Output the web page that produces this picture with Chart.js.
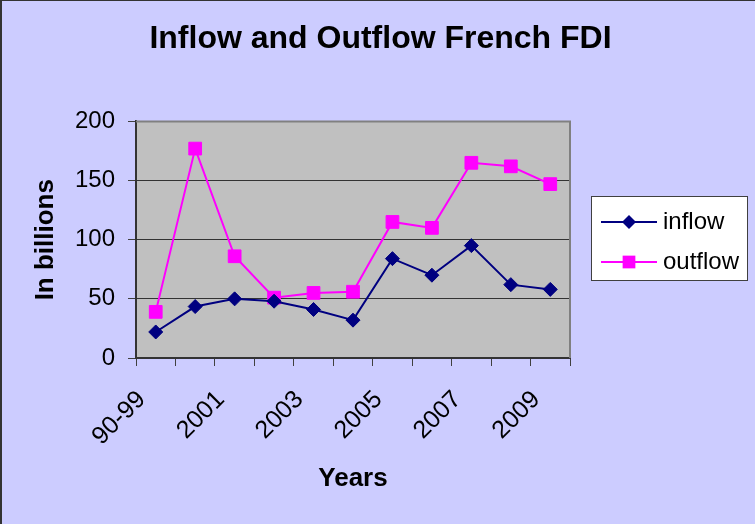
<!DOCTYPE html>
<html>
<head>
<meta charset="utf-8">
<script src="https://cdn.jsdelivr.net/npm/chart.js"></script>
<style>
  body { margin: 0; background: #ccccff; }
  canvas { display: block; }
</style>
</head>
<body>
<canvas id="fdiChart" width="755" height="524"></canvas>
<script>
// DATA
const years = ["90-99", "2000", "2001", "2002", "2003", "2004", "2005", "2006", "2007", "2008", "2009"];
const inflow = [22, 43.5, 50, 48, 41, 32, 84, 70, 95, 62, 58];
const outflow = [39, 177, 86, 51, 55, 56, 115, 110, 165, 162, 147];
const yTicks = [0, 50, 100, 150, 200];

const FONT = "Arial, 'Liberation Sans', sans-serif";

// BACKGROUND + PLOT AREA
const backdrop = {
  id: "backdrop",
  beforeDraw(chart) {
    const { ctx, chartArea: a } = chart;
    ctx.save();
    ctx.fillStyle = "#ccccff";
    ctx.fillRect(0, 0, chart.width, chart.height);
    ctx.fillStyle = "#333333";
    ctx.fillRect(0, 0, chart.width, 1);
    ctx.fillRect(0, 0, 2, chart.height);
    ctx.fillStyle = "#c0c0c0";
    ctx.fillRect(a.left, a.top, a.right - a.left, a.bottom - a.top);
    ctx.restore();
  },
  beforeDatasetsDraw(chart) {
    const { ctx, chartArea: a } = chart;
    ctx.save();
    ctx.strokeStyle = "#808080";
    ctx.lineWidth = 2;
    ctx.beginPath();
    ctx.moveTo(a.left, a.top);
    ctx.lineTo(a.right, a.top);
    ctx.lineTo(a.right, a.bottom);
    ctx.stroke();
    ctx.restore();
  }
};

// LEGEND (excel style, line + marker)
const boxLegend = {
  id: "boxLegend",
  afterDraw(chart) {
    const ctx = chart.ctx;
    const x = 591.5, y = 196.5, w = 156, h = 84;
    ctx.save();
    ctx.fillStyle = "#ffffff";
    ctx.fillRect(x, y, w, h);
    ctx.strokeStyle = "#404040";
    ctx.lineWidth = 1;
    ctx.strokeRect(x, y, w, h);
    chart.data.datasets.forEach((ds, i) => {
      const ly = 222 + i * 40;
      ctx.strokeStyle = ds.borderColor;
      ctx.lineWidth = ds.borderWidth;
      ctx.beginPath();
      ctx.moveTo(601, ly);
      ctx.lineTo(657, ly);
      ctx.stroke();
      ctx.fillStyle = ds.pointBackgroundColor;
      ctx.beginPath();
      if (ds.pointStyle === "rectRot") {
        const r = ds.pointRadius;
        ctx.moveTo(629, ly - r);
        ctx.lineTo(629 + r, ly);
        ctx.lineTo(629, ly + r);
        ctx.lineTo(629 - r, ly);
      } else {
        const s = ds.pointRadius * Math.SQRT1_2;
        ctx.rect(629 - s, ly - s, 2 * s, 2 * s);
      }
      ctx.closePath();
      ctx.fill();
      ctx.fillStyle = "#000000";
      ctx.font = "24px " + FONT;
      ctx.textBaseline = "middle";
      ctx.textAlign = "left";
      ctx.fillText(ds.label, 663, ly);
    });
    ctx.restore();
  }
};

new Chart(document.getElementById("fdiChart"), {
  type: "line",
  data: {
    labels: years,
    datasets: [
      {
        label: "inflow",
        data: inflow,
        borderColor: "#000080",
        backgroundColor: "#000080",
        pointBackgroundColor: "#000080",
        pointBorderColor: "#000080",
        borderWidth: 2,
        pointStyle: "rectRot",
        pointRadius: 7,
        pointBorderWidth: 1,
        tension: 0
      },
      {
        label: "outflow",
        data: outflow,
        borderColor: "#ff00ff",
        backgroundColor: "#ff00ff",
        pointBackgroundColor: "#ff00ff",
        pointBorderColor: "#ff00ff",
        borderWidth: 2,
        pointStyle: "rect",
        pointRadius: 9,
        pointBorderWidth: 1,
        tension: 0
      }
    ]
  },
  options: {
    responsive: false,
    animation: false,
    layout: { padding: { left: 6, right: 0, top: 0, bottom: 0 } },
    plugins: {
      legend: { display: false },
      tooltip: { enabled: false },
      title: {
        display: true,
        text: "Inflow and Outflow French FDI",
        color: "#000000",
        font: { family: FONT, size: 32, weight: "bold" },
        padding: { top: 20, bottom: 63 }
      }
    },
    scales: {
      x: {
        offset: true,
        grid: { drawOnChartArea: false, offset: true, tickLength: 8, color: "#404040", tickColor: "#404040" },
        border: { color: "#333333", width: 2 },
        ticks: {
          autoSkip: false,
          maxRotation: 45,
          minRotation: 45,
          padding: 19,
          labelOffset: -14,
          color: "#000000",
          font: { family: FONT, size: 25 },
          callback: (v, i) => (i % 2 === 0 ? years[i] : "")
        },
        title: {
          display: true,
          text: "Years",
          color: "#000000",
          font: { family: FONT, size: 26, weight: "bold" },
          padding: { top: 0, bottom: 30 }
        },
        afterFit: s => { s.height = 166; }
      },
      y: {
        min: yTicks[0],
        max: yTicks[yTicks.length - 1],
        afterBuildTicks: s => { s.ticks = yTicks.map(v => ({ value: v })); },
        grid: {
          color: c => (c.tick && c.tick.value === 200 ? "#808080" : "#333333"),
          lineWidth: 1,
          tickLength: 8,
          tickColor: "#404040"
        },
        border: { color: "#333333", width: 2 },
        ticks: {
          color: "#000000",
          padding: 13,
          font: { family: FONT, size: 24 }
        },
        title: {
          display: true,
          text: "In billions",
          color: "#000000",
          font: { family: FONT, size: 26, weight: "bold" },
          padding: { top: 24, bottom: 0 }
        },
        afterFit: s => { s.width = 130; }
      },
      y2: {
        position: "right",
        display: true,
        grid: { display: false },
        border: { display: false },
        ticks: { display: false },
        afterFit: s => { s.width = 185; }
      }
    }
  },
  plugins: [backdrop, boxLegend]
});
</script>
</body>
</html>
